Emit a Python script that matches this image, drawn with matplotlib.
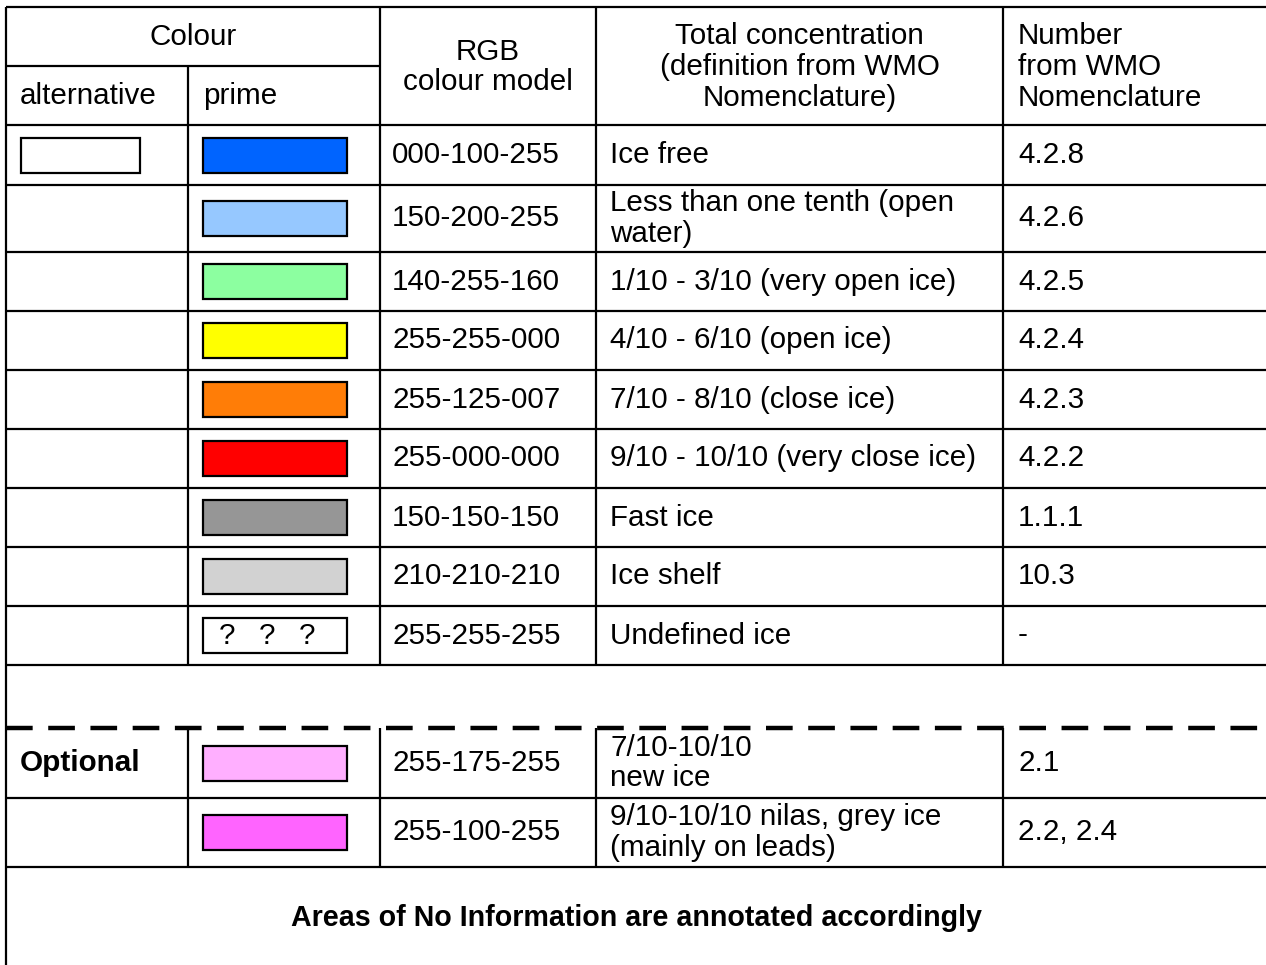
import matplotlib.pyplot as plt
from matplotlib.patches import Rectangle

plt.rcParams['font.family'] = ['Liberation Sans', 'DejaVu Sans']

# table content
rgb_codes = ['000-100-255', '150-200-255', '140-255-160', '255-255-000',
             '255-125-007', '255-000-000', '150-150-150', '210-210-210',
             '255-255-255']
descriptions = ['Ice free', 'Less than one tenth (open\nwater)',
                '1/10 - 3/10 (very open ice)', '4/10 - 6/10 (open ice)',
                '7/10 - 8/10 (close ice)', '9/10 - 10/10 (very close ice)',
                'Fast ice', 'Ice shelf', 'Undefined ice']
wmo_numbers = ['4.2.8', '4.2.6', '4.2.5', '4.2.4', '4.2.3', '4.2.2',
               '1.1.1', '10.3', '-']

opt_codes = ['255-175-255', '255-100-255']
opt_descriptions = ['7/10-10/10\nnew ice',
                    '9/10-10/10 nilas, grey ice\n(mainly on leads)']
opt_numbers = ['2.1', '2.2, 2.4']

footer = 'Areas of No Information are annotated accordingly'


def to_colour(code):
    return tuple(int(v) / 255 for v in code.split('-'))


# layout in pixels
W, H = 1266, 965
cols = [6, 188, 380, 596, 1003]
right = W
main_rows = [125, 185, 252, 311, 370, 429, 488, 547, 606, 665]
dash_y = 728
opt_rows = [dash_y, 798, 867]
fs = 21.3
lw = 1.6
ls = 1.12

fig = plt.figure(figsize=(W / 100, H / 100), dpi=100)
ax = fig.add_axes([0, 0, 1, 1])
ax.set_xlim(0, W)
ax.set_ylim(H, 0)
ax.axis('off')


def hline(y, x0=cols[0], x1=right, **kw):
    ax.plot([x0, x1], [y, y], color='black', lw=kw.pop('lw', lw),
            solid_capstyle='butt', **kw)


def vline(x, y0, y1):
    ax.plot([x, x], [y0, y1], color='black', lw=lw, solid_capstyle='butt')


def swatch(x_left, y_mid, colour, bw=144, label=None):
    bh = 35
    ax.add_patch(Rectangle((x_left + 15, y_mid - bh / 2), bw, bh,
                           facecolor=colour, edgecolor='black', lw=1.6))
    if label:
        for k in range(3):
            ax.text(x_left + 15 + 16 + k * 40, y_mid, label, fontsize=fs,
                    ha='left', va='center')


# header
hline(7)
hline(66, cols[0], cols[2])
hline(main_rows[0])
vline(cols[0], 7, H)
vline(cols[1], 66, main_rows[-1])
for x in cols[2:]:
    vline(x, 7, main_rows[-1])

ax.text((cols[0] + cols[2]) / 2, 37, 'Colour', fontsize=fs, ha='center', va='center')
ax.text(cols[0] + 14, 96, 'alternative', fontsize=fs, ha='left', va='center')
ax.text(cols[1] + 15, 96, 'prime', fontsize=fs, ha='left', va='center')
ax.text((cols[2] + cols[3]) / 2, 67, 'RGB\ncolour model', fontsize=fs,
        ha='center', va='center', multialignment='center', linespacing=ls)
ax.text((cols[3] + cols[4]) / 2, 67,
        'Total concentration\n(definition from WMO\nNomenclature)', fontsize=fs,
        ha='center', va='center', multialignment='center', linespacing=ls)
ax.text(cols[4] + 15, 67, 'Number\nfrom WMO\nNomenclature', fontsize=fs,
        ha='left', va='center', linespacing=ls)

# main rows
for i, code in enumerate(rgb_codes):
    y0, y1 = main_rows[i], main_rows[i + 1]
    ym = (y0 + y1) / 2
    hline(y1)
    if code == '255-255-255':
        swatch(cols[1], ym, 'white', label='?')
    else:
        swatch(cols[1], ym, to_colour(code))
    if i == 0:
        swatch(cols[0], ym, 'white', bw=119)
    ax.text(cols[2] + 12, ym, code, fontsize=fs, ha='left', va='center')
    ax.text(cols[3] + 14, ym, descriptions[i], fontsize=fs, ha='left',
            va='center', linespacing=ls)
    ax.text(cols[4] + 15, ym, wmo_numbers[i], fontsize=fs, ha='left', va='center')

# optional rows
hline(dash_y, lw=3.2, linestyle=(0, (6, 3.5)))
for x in cols[1:]:
    vline(x, dash_y, opt_rows[-1])
for i, code in enumerate(opt_codes):
    y0, y1 = opt_rows[i], opt_rows[i + 1]
    ym = (y0 + y1) / 2
    hline(y1)
    swatch(cols[1], ym, to_colour(code))
    ax.text(cols[2] + 12, ym, code, fontsize=fs, ha='left', va='center')
    ax.text(cols[3] + 14, ym, opt_descriptions[i], fontsize=fs, ha='left',
            va='center', linespacing=ls)
    ax.text(cols[4] + 15, ym, opt_numbers[i], fontsize=fs, ha='left', va='center')
ax.text(cols[0] + 14, (opt_rows[0] + opt_rows[1]) / 2, 'Optional', fontsize=fs,
        fontweight='bold', ha='left', va='center')

ax.text((cols[0] + right) / 2, (opt_rows[-1] + H) / 2 + 2, footer, fontsize=20.6,
        fontweight='bold', ha='center', va='center')

fig.savefig('out.png', dpi=100)
